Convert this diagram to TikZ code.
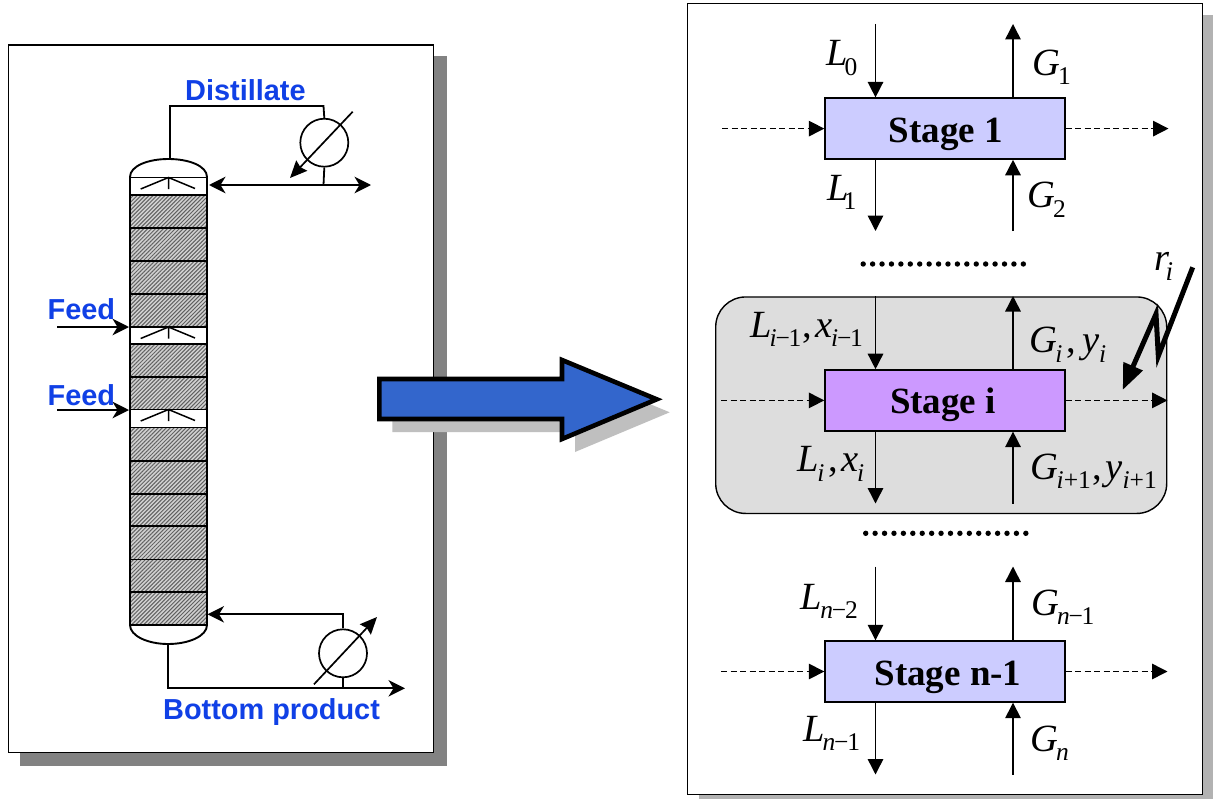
\documentclass[tikz,border=0pt]{standalone}
\usepackage{fontspec}
\setmainfont{Liberation Serif}
\setsansfont{Liberation Sans}
\usetikzlibrary{arrows.meta,patterns.meta,calc}
\definecolor{tagblue}{HTML}{1040E6}
\definecolor{stagelav}{HTML}{CCCCFF}
\definecolor{stagepur}{HTML}{CC99FF}
\definecolor{zonegray}{HTML}{DDDDDD}
\definecolor{bigblue}{HTML}{3366CC}
\newcommand\vbase[1]{{\fontsize{38.5}{38}\selectfont\itshape #1}}
\newcommand\vsub[1]{\raisebox{-9.5pt}{\fontsize{25.5}{25}\selectfont #1}}
\newcommand\ii{\textit{i}}
\newcommand\nn{\textit{n}}
\newcommand\mn{\kern-1.2pt−\kern-1.2pt}
\newcommand\vcomma{{\fontsize{38.5}{38}\selectfont,}}
\tikzset{
  panel/.style={draw=black,fill=white,line width=1.5pt},
  leftshadow/.style={fill=black!49,draw=none},
  rightshadow/.style={fill=black!30,draw=none},
  hatched/.style={preaction={fill=black!18},pattern={Lines[angle=45,distance=2.8pt,line width=1pt]},pattern color=black!62},
  colline/.style={line width=1.9pt,draw=black},
  pipe/.style={line width=1.8pt,draw=black},
  pipearrow/.style={pipe,-{Stealth[length=16.5pt,width=16.5pt,inset=5pt]}},
  pipearrowboth/.style={pipe,{Stealth[length=16.5pt,width=16.5pt,inset=5pt]}-{Stealth[length=16.5pt,width=16.5pt,inset=5pt]}},
  diagarrow/.style={line width=1.7pt,-{Stealth[length=17pt,width=15pt,inset=2pt]}},
  exch/.style={circle,draw=black,line width=1.7pt,minimum size=48pt,inner sep=0pt},
  tag/.style={font=\sffamily\bfseries\fontsize{28.9}{29}\selectfont,text=tagblue,anchor=base west,inner sep=0pt},
  stagebox/.style={draw=black,line width=1.4pt,minimum width=240pt,minimum height=61pt,inner sep=0pt},
  stagetext/.style={font=\bfseries\fontsize{37}{37}\selectfont,anchor=base,inner sep=0pt},
  flow/.style={line width=1.5pt,-{Triangle[length=15.5pt,width=15.5pt]}},
  dflow/.style={flow,dash pattern=on 6pt off 3.5pt},
  lab/.style={anchor=base west,inner sep=0pt},
  dotrow/.style={circle,fill=black,inner sep=0pt,minimum size=5.4pt}
}
\begin{document}
\begin{tikzpicture}[x=1pt,y=-1pt]
\useasboundingbox (0,0) rectangle (1213,800);
\fill[white] (0,0) rectangle (1213,800);
% left panel
\fill[leftshadow] (20,56) rectangle (447,766);
\draw[panel] (8.5,45) rectangle (433.5,752.7);
% column body
\foreach \a/\b in {195/228,228/261,261/294,294/327,344/377,377/409.5,427.5/460.7,460.7/494,494/526,526/559.5,559.5/592,592/625}{
  \path[hatched] (130,\a) rectangle (207,\b);
  \draw[colline] (130,\a) rectangle (207,\b);
}
\draw[colline] (130,177) -- (130,625) (207,177) -- (207,625);
\foreach \a/\b in {177.5/195,327/344,409.5/427.5}{
  \draw[colline] (130,\a) -- (207,\a) (130,\b) -- (207,\b);
  \draw[line width=1.5pt] (140.7,\a+11.5) -- (168.5,\a) -- (195,\a+11) (168.5,\a) -- (168.5,\a+11.5);
}
\coordinate (coltop) at (168.5,159);
\coordinate (colbot) at (168,644);
\draw[colline] (130,177) .. controls (130,166) and (148,159) .. (coltop) .. controls (189,159) and (207,166) .. (207,177);
\draw[colline] (130,625) .. controls (130,636) and (148,644) .. (colbot) .. controls (189,644) and (207,636) .. (207,625);
% condenser
\node[exch] (cond) at (324.3,142.7) {};
\coordinate (condjoin) at (323.5,185);
\coordinate (refluxend) at (209,185);
\coordinate (distend) at (371,185);
\coordinate (condturn1) at (170,106);
\coordinate (condturn2) at (323.5,106);
\draw[pipe] (170,159) -- (condturn1) -- (condturn2) -- (cond.north);
\draw[pipe] (cond.south) -- (condjoin);
\draw[pipearrowboth] (refluxend) -- (distend);
\coordinate (conda) at (352.7,111.7);
\coordinate (condb) at (290,178);
\draw[diagarrow] (conda) -- (condb);
% reboiler
\node[exch] (reb) at (343,653.3) {};
\coordinate (rebtop) at (343,614.3);
\coordinate (colin) at (207.5,614.3);
\draw[pipearrow] (reb.north) -- (rebtop) -- (colin);
\coordinate (botcorner) at (168,688.3);
\coordinate (botend) at (405,688.3);
\draw[pipearrow] (colbot) -- (botcorner) -- (botend);
\draw[pipe] (reb.south) -- (343,688.3);
\coordinate (reba) at (314,684.3);
\coordinate (rebb) at (377,617);
\draw[diagarrow] (reba) -- (rebb);
% feeds
\coordinate (f1a) at (57,327); \coordinate (f1b) at (129,327);
\coordinate (f2a) at (57,410); \coordinate (f2b) at (129,410);
\draw[pipearrow] (f1a) -- (f1b);
\draw[pipearrow] (f2a) -- (f2b);
\node[tag] (tfeedone) at (47.5,319) {Feed};
\node[tag] (tfeedtwo) at (47.5,405) {Feed};
\node[tag] (tdist) at (185,100.5) {Distillate};
\node[tag] (tbot) at (163,719) {Bottom product};
% right panel
\fill[rightshadow] (699,15) rectangle (1213,798.5);
\draw[panel] (687.5,3.3) rectangle (1202.5,794.3);
\node[fill=zonegray,draw=black,line width=1.4pt,rounded corners=30pt,minimum width=451pt,minimum height=216.5pt,inner sep=0pt] (zone) at (941.2,405.2) {};
% stages
\node[stagebox,fill=stagelav] (s1) at (945,128.6) {};
\node[stagetext] (t1) at (946,142) {Stage 1};
\node[stagebox,fill=stagepur] (si) at (945,400.4) {};
\node[stagetext] (t2) at (943,413.5) {Stage i};
\node[stagebox,fill=stagelav] (sn) at (945,671.5) {};
\node[stagetext] (t3) at (948,685.5) {Stage n-1};
% flows
\foreach \s/\top/\bot/\lft/\rgt in {s1/24/231/722/1168.5, si/296/503.5/721/1167.5, sn/566.5/774.5/721/1167.5}{
  \coordinate (\s ltop) at (875.5,\top);
  \coordinate (\s lbot) at (875.5,\bot);
  \coordinate (\s gtop) at (1013,\top);
  \coordinate (\s gbot) at (1013,\bot);
  \draw[flow] (\s ltop) -- (\s ltop |- \s.north);
  \draw[flow] (\s gtop |- \s.north) -- (\s gtop);
  \draw[flow] (\s lbot |- \s.south) -- (\s lbot);
  \draw[flow] (\s gbot) -- (\s gbot |- \s.south);
  \coordinate (\s in) at (\lft,0 |- \s.west);
  \coordinate (\s out) at (\rgt,0 |- \s.east);
  \draw[dflow] (\s.west -| \s in) -- (\s.west);
  \draw[dflow] (\s.east) -- (\s.east -| \s out);
}
% dots
\foreach \k in {0,...,17}{
  \node[dotrow] (da\k) at (863.2+9.42*\k,264) {};
  \node[dotrow] (db\k) at (865.7+9.42*\k,533.3) {};
}
% r_i lightning
\coordinate (ra) at (1192.7,267.3);
\coordinate (rb) at (1158.3,356);
\coordinate (rc) at (1156,314);
\coordinate (rd) at (1122.7,390);
\draw[line width=5pt,miter limit=10,-{Triangle[length=26pt,width=20pt]}] (ra) -- (rb) -- (rc) -- (rd);
% labels
\node[lab] (r) at (1154.5,270.7) {\vbase{r}\kern-4pt\raisebox{-10pt}{\fontsize{27}{27}\selectfont\ii}};
\node[lab] (l0) at (826,65.7) {\vbase{L}\kern-3pt\vsub{0}};
\node[lab] (g1) at (1032,75) {\vbase{G}\kern-2pt\vsub{1}};
\node[lab] (l1) at (827,200) {\vbase{L}\kern-5pt\vsub{1}};
\node[lab] (g2) at (1027,207.7) {\vbase{G}\kern-2pt\vsub{2}};
\node[lab] (lim) at (750,337.3) {\vbase{L}\kern-2pt\vsub{\ii\mn 1}\kern1pt\vcomma\kern3pt\vbase{x}\kern-1pt\vsub{\ii\mn 1}};
\node[lab] (gi) at (1029.3,352.7) {\vbase{G}\kern-2pt\vsub{\ii}\kern4pt\vcomma\kern6pt\vbase{y}\vsub{\ii}};
\node[lab] (li) at (797.7,471.7) {\vbase{L}\kern-2pt\vsub{\ii}\kern4pt\vcomma\kern3pt\vbase{x}\kern-1pt\vsub{\ii}};
\node[lab] (gp) at (1030.7,479.3) {\vbase{G}\kern-2pt\vsub{\ii+1}\kern2pt\vcomma\kern3pt\vbase{y}\vsub{\ii+1}};
\node[lab] (ln2) at (800.7,609) {\vbase{L}\kern-2pt\vsub{\nn\mn 2}};
\node[lab] (gn1) at (1031,615) {\vbase{G}\kern-2pt\vsub{\nn\mn 1}};
\node[lab] (ln1) at (803,741) {\vbase{L}\kern-2pt\vsub{\nn\mn 1}};
\node[lab] (gn) at (1030,751) {\vbase{G}\kern-2pt\vsub{\nn}};
% big arrow
\fill[black!25] (392.3,392) -- (575,392) -- (575,373) -- (669.7,412.3) -- (575,452) -- (575,432) -- (392.3,432) -- cycle;
\draw[fill=bigblue,line width=4.6pt,miter limit=10] (379.3,379) -- (562,379) -- (562,360) -- (656.7,399.3) -- (562,439) -- (562,419) -- (379.3,419) -- cycle;
\end{tikzpicture}
\end{document}
